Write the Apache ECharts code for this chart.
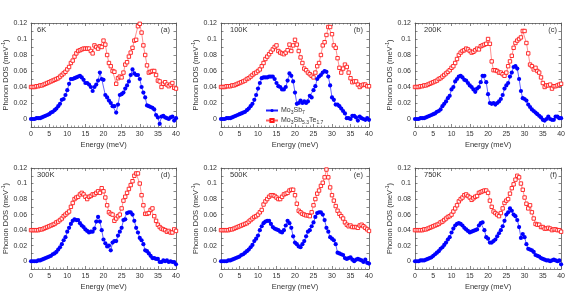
<!DOCTYPE html>
<html><head><meta charset="utf-8">
<script src="https://cdn.jsdelivr.net/npm/echarts@6/dist/echarts.min.js"></script>
<style>html,body{margin:0;padding:0;background:#fff}#c{width:568px;height:292px}</style>
</head><body><div id="c"></div>
<script>
const energy = [0,0.5,1,1.5,2,2.5,3,3.5,4,4.5,5,5.5,6,6.5,7,7.5,8,8.5,9,9.5,10,10.5,11,11.5,12,12.5,13,13.5,14,14.5,15,15.5,16,16.5,17,17.5,18,18.5,19,19.5,20,20.5,21,21.5,22,22.5,23,23.5,24,24.5,25,25.5,26,26.5,27,27.5,28,28.5,29,29.5,30,30.5,31,31.5,32,32.5,33,33.5,34,34.5,35,35.5,36,36.5,37,37.5,38,38.5,39,39.5,40];
const temps = ['6K','100K','200K','300K','500K','750K'];
const panelTags = ['(a)','(b)','(c)','(d)','(e)','(f)'];
const xTickLabels = ['0','5','10','15','20','25','30','35','40'];
const yTickLabels = ['0','0.02','0.04','0.06','0.08','0.1','0.12'];
const seriesNames = ['Mo3Sb7','Mo3Sb5.3Te1.7'];

const sb7_6K = [0.000,0.000,0.000,0.001,0.001,0.001,0.002,0.003,0.004,0.005,
0.006,0.008,0.009,0.011,0.013,0.016,0.019,0.024,0.025,0.030,
0.036,0.044,0.050,0.050,0.051,0.052,0.053,0.054,0.052,0.049,
0.045,0.045,0.043,0.040,0.035,0.040,0.043,0.048,0.058,0.050,
0.049,0.030,0.027,0.023,0.020,0.016,0.016,0.008,0.018,0.030,
0.031,0.033,0.038,0.042,0.047,0.055,0.062,0.057,0.055,0.055,
0.050,0.040,0.033,0.027,0.017,0.016,0.015,0.014,0.012,0.005,
0.002,-0.006,0.003,0.004,0.002,0.001,0.000,0.002,0.003,-0.002,
0.001];
const te_6K = [0.040,0.040,0.040,0.041,0.041,0.042,0.042,0.043,0.044,0.045,
0.046,0.047,0.048,0.049,0.050,0.051,0.053,0.055,0.057,0.059,
0.062,0.065,0.070,0.073,0.078,0.082,0.085,0.086,0.087,0.088,
0.088,0.088,0.088,0.085,0.082,0.092,0.090,0.088,0.091,0.090,
0.098,0.093,0.080,0.070,0.066,0.060,0.059,0.044,0.051,0.053,
0.052,0.058,0.068,0.071,0.078,0.083,0.089,0.098,0.099,0.116,
0.119,0.108,0.092,0.080,0.067,0.058,0.059,0.060,0.060,0.055,
0.048,0.047,0.040,0.044,0.046,0.043,0.041,0.043,0.045,0.039,
0.038];
const sb7_100K = [0.000,0.000,0.000,0.001,0.001,0.001,0.002,0.003,0.004,0.005,
0.006,0.007,0.008,0.009,0.011,0.013,0.016,0.019,0.024,0.030,
0.038,0.045,0.051,0.052,0.052,0.052,0.053,0.053,0.053,0.050,
0.045,0.041,0.040,0.037,0.037,0.040,0.048,0.057,0.054,0.047,
0.033,0.019,0.020,0.023,0.020,0.022,0.020,0.022,0.029,0.027,
0.036,0.041,0.050,0.053,0.055,0.058,0.060,0.059,0.053,0.042,
0.027,0.024,0.018,0.018,0.016,0.013,0.010,0.007,0.001,0.001,
0.000,0.004,0.004,0.002,-0.002,0.003,0.001,0.000,-0.001,0.001,
-0.001];
const te_100K = [0.040,0.040,0.040,0.041,0.041,0.041,0.042,0.042,0.043,0.044,
0.045,0.046,0.047,0.048,0.050,0.051,0.053,0.055,0.057,0.058,
0.060,0.062,0.066,0.070,0.075,0.078,0.081,0.084,0.087,0.090,
0.092,0.085,0.083,0.082,0.081,0.083,0.086,0.093,0.085,0.092,
0.099,0.093,0.085,0.077,0.070,0.063,0.061,0.058,0.056,0.054,
0.052,0.058,0.066,0.070,0.080,0.092,0.096,0.105,0.115,0.115,
0.106,0.092,0.089,0.076,0.064,0.058,0.063,0.068,0.065,0.058,
0.051,0.046,0.047,0.047,0.043,0.040,0.042,0.043,0.043,0.041,
0.041];
const sb7_200K = [0.000,0.000,0.000,0.001,0.001,0.001,0.002,0.003,0.004,0.005,
0.006,0.007,0.009,0.010,0.012,0.016,0.019,0.022,0.026,0.029,
0.037,0.040,0.047,0.050,0.053,0.054,0.052,0.049,0.048,0.045,
0.042,0.040,0.037,0.034,0.038,0.040,0.046,0.054,0.054,0.046,
0.031,0.020,0.019,0.020,0.018,0.020,0.022,0.025,0.030,0.038,
0.042,0.045,0.053,0.058,0.065,0.066,0.063,0.050,0.035,0.026,
0.025,0.023,0.018,0.015,0.012,0.010,0.008,0.006,0.004,0.002,
-0.001,-0.002,0.000,0.003,0.000,-0.001,-0.001,0.003,0.003,0.001,
0.001];
const te_200K = [0.040,0.040,0.040,0.041,0.041,0.042,0.042,0.043,0.044,0.045,
0.046,0.047,0.048,0.050,0.051,0.053,0.055,0.057,0.059,0.061,
0.064,0.066,0.070,0.075,0.080,0.083,0.085,0.086,0.088,0.087,
0.085,0.083,0.084,0.086,0.088,0.087,0.091,0.092,0.093,0.094,
0.100,0.094,0.072,0.061,0.061,0.060,0.058,0.058,0.056,0.054,
0.058,0.066,0.072,0.079,0.089,0.095,0.098,0.100,0.102,0.110,
0.110,0.095,0.082,0.068,0.066,0.062,0.064,0.060,0.058,0.052,
0.045,0.040,0.042,0.042,0.043,0.038,0.041,0.041,0.042,0.043,
0.044];
const sb7_300K = [0.000,0.000,0.000,0.000,0.001,0.001,0.002,0.003,0.004,0.005,
0.006,0.007,0.009,0.010,0.012,0.015,0.018,0.022,0.027,0.031,
0.038,0.043,0.048,0.052,0.054,0.053,0.053,0.049,0.046,0.044,
0.041,0.039,0.037,0.038,0.038,0.042,0.051,0.057,0.051,0.040,
0.028,0.023,0.019,0.020,0.014,0.024,0.026,0.026,0.033,0.038,
0.043,0.053,0.054,0.062,0.063,0.063,0.060,0.052,0.043,0.037,
0.030,0.027,0.022,0.014,0.013,0.010,0.007,0.004,0.004,0.003,
0.003,-0.001,-0.001,0.001,0.000,0.001,-0.001,0.000,-0.001,-0.001,
-0.004];
const te_300K = [0.040,0.040,0.040,0.040,0.040,0.041,0.041,0.042,0.043,0.044,
0.045,0.046,0.047,0.048,0.050,0.051,0.053,0.055,0.058,0.060,
0.062,0.064,0.070,0.075,0.080,0.082,0.083,0.086,0.088,0.086,
0.083,0.080,0.083,0.084,0.086,0.086,0.088,0.090,0.088,0.094,
0.090,0.082,0.072,0.063,0.061,0.060,0.052,0.055,0.058,0.060,
0.068,0.078,0.083,0.088,0.093,0.098,0.103,0.110,0.113,0.113,
0.100,0.085,0.072,0.061,0.061,0.062,0.066,0.068,0.058,0.052,
0.047,0.044,0.042,0.041,0.040,0.038,0.039,0.037,0.037,0.041,
0.039];
const sb7_500K = [0.000,0.000,0.000,0.000,0.001,0.001,0.002,0.003,0.004,0.005,
0.006,0.008,0.009,0.011,0.013,0.015,0.018,0.021,0.026,0.029,
0.033,0.040,0.045,0.049,0.051,0.052,0.052,0.048,0.044,0.042,
0.041,0.040,0.038,0.037,0.040,0.046,0.052,0.049,0.043,0.032,
0.024,0.022,0.019,0.018,0.022,0.026,0.032,0.038,0.040,0.045,
0.050,0.057,0.062,0.063,0.063,0.060,0.053,0.043,0.038,0.031,
0.029,0.027,0.022,0.011,0.010,0.009,0.008,0.004,0.003,0.004,
0.005,0.002,0.000,0.002,0.003,0.002,0.001,-0.001,0.002,-0.002,
-0.003];
const te_500K = [0.040,0.040,0.040,0.040,0.040,0.041,0.041,0.042,0.043,0.044,
0.045,0.046,0.047,0.048,0.049,0.051,0.053,0.055,0.057,0.058,
0.060,0.063,0.066,0.073,0.077,0.080,0.083,0.085,0.085,0.084,
0.082,0.080,0.080,0.083,0.086,0.087,0.088,0.091,0.092,0.092,
0.085,0.074,0.065,0.063,0.061,0.060,0.059,0.059,0.058,0.063,
0.072,0.080,0.087,0.091,0.097,0.101,0.108,0.118,0.108,0.095,
0.085,0.078,0.071,0.065,0.061,0.058,0.055,0.050,0.047,0.045,
0.046,0.044,0.044,0.044,0.043,0.046,0.047,0.045,0.043,0.041,
0.039];
const sb7_750K = [0.000,0.000,0.000,0.001,0.001,0.001,0.002,0.003,0.004,0.005,
0.007,0.009,0.011,0.013,0.016,0.018,0.021,0.024,0.028,0.031,
0.037,0.042,0.046,0.048,0.049,0.048,0.046,0.043,0.041,0.039,
0.037,0.038,0.039,0.040,0.041,0.046,0.049,0.050,0.040,0.031,
0.029,0.024,0.024,0.026,0.028,0.032,0.036,0.040,0.045,0.052,
0.060,0.063,0.068,0.065,0.060,0.058,0.053,0.044,0.030,0.035,
0.031,0.022,0.016,0.015,0.014,0.012,0.008,0.007,0.006,0.004,
0.003,0.002,0.001,0.001,0.000,0.001,0.002,0.001,0.000,0.001,
-0.004];
const te_750K = [0.040,0.040,0.040,0.040,0.040,0.041,0.041,0.042,0.043,0.044,
0.045,0.046,0.047,0.048,0.050,0.051,0.053,0.055,0.057,0.058,
0.060,0.064,0.068,0.072,0.077,0.080,0.082,0.085,0.086,0.084,
0.082,0.079,0.081,0.083,0.084,0.088,0.089,0.090,0.091,0.091,
0.088,0.078,0.070,0.064,0.062,0.060,0.058,0.062,0.068,0.075,
0.078,0.080,0.087,0.094,0.099,0.105,0.110,0.108,0.100,0.092,
0.082,0.074,0.068,0.072,0.063,0.055,0.048,0.047,0.047,0.044,
0.044,0.042,0.042,0.043,0.042,0.040,0.041,0.041,0.040,0.040,
0.038];

const sb7Sets = [sb7_6K, sb7_100K, sb7_200K, sb7_300K, sb7_500K, sb7_750K];
const teSets = [te_6K, te_100K, te_200K, te_300K, te_500K, te_750K];

const FONT = 'Liberation Sans, Arial, sans-serif';
const AX = '#555';
const TXT = '#333';
const gridLefts = [28, 221, 415];
const gridTops = [23, 168];
const GW = 148, GH = 104;

const grids = [], xAxes = [], yAxes = [], series = [], graphics = [];
const pair = (arr) => arr.map((v, i) => [energy[i], v]);

for (let k = 0; k < 6; k++) {
  const L = gridLefts[k % 3], T = gridTops[Math.floor(k / 3)];
  grids.push({left: L, top: T, width: GW, height: GH, containLabel: false});
  const xCommon = {
    type: 'value', gridIndex: k, min: 0, max: 40, interval: 5,
    axisLine: {show: true, onZero: false, lineStyle: {color: AX, width: 0.8}},
    axisTick: {show: true, inside: true, length: 3, lineStyle: {color: AX, width: 0.7}},
    minorTick: {show: true, splitNumber: 5, length: 1.5, lineStyle: {color: AX, width: 0.6}},
    splitLine: {show: false}, minorSplitLine: {show: false}
  };
  xAxes.push(Object.assign({}, xCommon, {
    position: 'bottom',
    axisLabel: {show: true, fontSize: 7, color: TXT, fontFamily: FONT, margin: 4,
      formatter: (v) => xTickLabels[Math.round(v / 5)]},
    name: 'Energy (meV)', nameLocation: 'middle', nameGap: 14,
    nameTextStyle: {fontSize: 7.5, color: TXT, fontFamily: FONT}
  }));
  xAxes.push(Object.assign({}, xCommon, {position: 'top', axisLabel: {show: false}}));
  const yCommon = {
    type: 'value', gridIndex: k, min: -0.01, max: 0.12, interval: 0.01,
    axisLine: {show: true, onZero: false, lineStyle: {color: AX, width: 0.8}},
    axisTick: {show: true, inside: true, length: 2.5, lineStyle: {color: AX, width: 0.7}},
    splitLine: {show: false}
  };
  yAxes.push(Object.assign({}, yCommon, {
    position: 'left',
    axisLabel: {show: true, fontSize: 7, color: TXT, fontFamily: FONT, margin: 4,
      formatter: (v) => { const n = Math.round(v * 100); return (n >= 0 && n % 2 === 0) ? yTickLabels[n / 2] : ''; }},
    name: 'Phonon DOS (meV{sup|-1})', nameLocation: 'middle', nameGap: 19,
    nameTextStyle: {fontSize: 7.5, color: TXT, fontFamily: FONT,
      rich: {sup: {fontSize: 5, color: TXT, fontFamily: FONT, verticalAlign: 'top', padding: [0, 0, 4, 0]}}}
  }));
  yAxes.push(Object.assign({}, yCommon, {position: 'right', axisLabel: {show: false}}));

  series.push({
    name: seriesNames[0], type: 'line', xAxisIndex: 2 * k, yAxisIndex: 2 * k,
    data: pair(sb7Sets[k]), symbol: 'circle', symbolSize: 4.2, showSymbol: true,
    lineStyle: {color: '#2020ff', width: 0.7}, itemStyle: {color: '#0000ff'}, z: 3
  });
  series.push({
    name: seriesNames[1], type: 'line', xAxisIndex: 2 * k, yAxisIndex: 2 * k,
    data: pair(teSets[k]), symbol: 'rect', symbolSize: 3.4, showSymbol: true,
    lineStyle: {color: '#ff6060', width: 0.7},
    itemStyle: {color: '#fff', borderColor: '#ff1a1a', borderWidth: 0.9}, z: 2
  });

  graphics.push({type: 'text', x: L + 9, y: T + 3,
    style: {text: temps[k], fontSize: 7.5, fill: TXT, font: '7.5px ' + FONT}});
  graphics.push({type: 'text', x: L + 142, y: T + 3,
    style: {text: panelTags[k], fontSize: 7.5, fill: TXT, align: 'right', font: '7.5px ' + FONT}});
}

const chart = echarts.init(document.getElementById('c'), null, {renderer: 'canvas'});
chart.setOption({
  animation: false,
  backgroundColor: '#fff',
  grid: grids, xAxis: xAxes, yAxis: yAxes, series: series,
  graphic: graphics,
  legend: {
    orient: 'vertical', left: 260, top: 102, itemWidth: 12, itemHeight: 4, itemGap: 2,
    data: seriesNames,
    formatter: (n) => n === 'Mo3Sb7' ? 'Mo{sub|3}Sb{sub|7}' : 'Mo{sub|3}Sb{sub|5.3}Te{sub|1.7}',
    textStyle: {fontSize: 7, color: TXT, fontFamily: FONT, padding: [0, 0, 0, -2],
      rich: {sub: {fontSize: 5, color: TXT, fontFamily: FONT, verticalAlign: 'bottom', padding: [4, 0, 0, 0]}}}
  }
});
</script></body></html>
